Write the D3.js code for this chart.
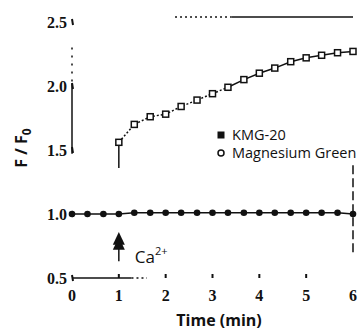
<!DOCTYPE html>
<html>
<head>
<meta charset="utf-8">
<script src="https://cdn.jsdelivr.net/npm/d3@7/dist/d3.min.js"></script>
<style>
  body { margin: 0; background: #fff; }
</style>
</head>
<body>
<div id="chart"></div>
<script>
// time points (min) and F/F0 values
const kmgTimes = [0, 0.33, 0.67, 1, 1.33, 1.67, 2, 2.33, 2.67, 3, 3.33, 3.67, 4, 4.33, 4.67, 5, 5.33, 5.67, 6];
const kmgValues = [1.0, 1.0, 1.0, 1.0, 1.01, 1.01, 1.01, 1.01, 1.01, 1.01, 1.01, 1.01, 1.01, 1.01, 1.01, 1.01, 1.01, 1.01, 1.0];

const mgTimes = [1, 1.33, 1.67, 2, 2.33, 2.67, 3, 3.33, 3.67, 4, 4.33, 4.67, 5, 5.33, 5.67, 6];
const mgValues = [1.56, 1.70, 1.76, 1.78, 1.84, 1.89, 1.94, 1.99, 2.05, 2.10, 2.14, 2.19, 2.22, 2.24, 2.26, 2.27];
const mgJump = [1.36, 1.56]; // rise drawn at the moment of addition

const xTicks = [0, 1, 2, 3, 4, 5, 6];
const yTicks = [0.5, 1.0, 1.5, 2.0, 2.5];
const caTime = 1;
const legendLabels = ["KMG-20", "Magnesium Green"];

const width = 358, height = 330;
const margin = {top: 22, right: 5, bottom: 52, left: 72};

const svg = d3.select("#chart").append("svg")
  .attr("width", width)
  .attr("height", height);

const x = d3.scaleLinear()
  .domain([0, 6])
  .range([margin.left, width - margin.right]);

const y = d3.scaleLinear()
  .domain([0.5, 2.5])
  .range([height - margin.bottom, margin.top]);

const ink = "#111";

// frame, partly broken like the scanned original
const frame = svg.append("g").attr("stroke", ink).attr("fill", "none");
frame.append("line")//left axis
  .attr("x1", x(0)).attr("x2", x(0))
  .attr("y1", y(2.02)).attr("y2", y(1.47))
  .attr("stroke-width", 1.5);
frame.append("line")
  .attr("x1", x(0)).attr("x2", x(0))
  .attr("y1", y(2.3)).attr("y2", y(2.02))
  .attr("stroke-width", 1.5).attr("stroke-dasharray", "2,6");
frame.append("line")//bottom axis
  .attr("x1", x(0)).attr("x2", x(1.27))
  .attr("y1", y(0.5)).attr("y2", y(0.5))
  .attr("stroke-width", 1.5);
frame.append("line")
  .attr("x1", x(1.27)).attr("x2", x(1.6))
  .attr("y1", y(0.5)).attr("y2", y(0.5))
  .attr("stroke-width", 1.5).attr("stroke-dasharray", "2,3");
frame.append("line")//top border
  .attr("x1", x(2.2)).attr("x2", x(3.4))
  .attr("y1", y(2.54)).attr("y2", y(2.54))
  .attr("stroke-width", 1.5).attr("stroke-dasharray", "2,3");
frame.append("line")
  .attr("x1", x(3.4)).attr("x2", x(6))
  .attr("y1", y(2.54)).attr("y2", y(2.54))
  .attr("stroke-width", 1.5);
frame.append("line")//right border
  .attr("x1", x(6)).attr("x2", x(6))
  .attr("y1", y(1.38)).attr("y2", y(0.68))
  .attr("stroke-width", 1.5).attr("stroke-dasharray", "9,4");

// tick marks, pointing inward
frame.selectAll(".ytick")
  .data(yTicks)
  .enter().append("line")
    .attr("x1", x(0)).attr("x2", x(0) + 1)
    .attr("y1", d => y(d) - 3).attr("y2", d => y(d) + 3)
    .attr("stroke-width", 2);
frame.selectAll(".xtick")
  .data(xTicks.slice(1, 6))
  .enter().append("line")
    .attr("x1", d => x(d)).attr("x2", d => x(d))
    .attr("y1", y(0.5)).attr("y2", y(0.5) - 4)
    .attr("stroke-width", 2);

// tick labels
svg.selectAll(".ylab")
  .data(yTicks)
  .enter().append("text")
    .attr("x", x(0) - 5)
    .attr("y", d => y(d))
    .attr("dy", "0.35em")
    .attr("text-anchor", "end")
    .style("font", "bold 16px 'Liberation Serif'")
    .style("fill", ink)
    .text(d => d.toFixed(1));

svg.selectAll(".xlab")
  .data(xTicks)
  .enter().append("text")
    .attr("x", d => x(d))
    .attr("y", y(0.5) + 23)
    .attr("text-anchor", "middle")
    .style("font", "bold 16px 'Liberation Serif'")
    .style("fill", ink)
    .text(d => d);

// axis titles
svg.append("text")
  .attr("x", 219)
  .attr("y", 326)
  .attr("text-anchor", "middle")
  .style("font", "bold 16px 'Open Sans'")
  .style("fill", ink)
  .text("Time (min)");

const yTitle = svg.append("text")
  .attr("transform", "translate(27,148) rotate(-90)")
  .attr("text-anchor", "middle")
  .style("font", "bold 16px 'Open Sans'")
  .style("fill", ink);
yTitle.append("tspan").text("F / F");
yTitle.append("tspan").attr("dy", 4).style("font-size", "12px").text("0");

// Magnesium Green trace
const line = d3.line().x(d => x(d[0])).y(d => y(d[1]));
const mg = mgTimes.map((t, i) => [t, mgValues[i]]);

svg.append("path")
  .datum(mgJump.map(v => [mgTimes[0], v]))
  .attr("d", line)
  .attr("fill", "none").attr("stroke", ink).attr("stroke-width", 1.5);
svg.append("path")
  .datum(mg.slice(0, 8))
  .attr("d", line)
  .attr("fill", "none").attr("stroke", ink).attr("stroke-width", 1.5)
  .attr("stroke-dasharray", "2,2");
svg.append("path")
  .datum(mg.slice(7))
  .attr("d", line)
  .attr("fill", "none").attr("stroke", ink).attr("stroke-width", 1.5);

svg.selectAll(".mg")
  .data(mg)
  .enter().append("rect")
    .attr("x", d => x(d[0]) - 3)
    .attr("y", d => y(d[1]) - 3)
    .attr("width", 6)
    .attr("height", 6)
    .attr("fill", "#fff")
    .attr("stroke", ink)
    .attr("stroke-width", 1.5);

// KMG-20 trace
const kmg = kmgTimes.map((t, i) => [t, kmgValues[i]]);
svg.append("path")
  .datum(kmg)
  .attr("d", line)
  .attr("fill", "none").attr("stroke", ink).attr("stroke-width", 1.5);
svg.selectAll(".kmg")
  .data(kmg)
  .enter().append("circle")
    .attr("cx", d => x(d[0]))
    .attr("cy", d => y(d[1]))
    .attr("r", 3.3)
    .attr("fill", ink);

// Ca2+ addition arrow
svg.append("line")
  .attr("x1", x(caTime)).attr("x2", x(caTime))
  .attr("y1", y(0.63)).attr("y2", y(0.8))
  .attr("stroke", ink).attr("stroke-width", 1.5);
[[0.86, 0.76], [0.82, 0.72]].forEach(h => {
  svg.append("path")
    .attr("d", `M${x(caTime)},${y(h[0])}L${x(caTime) + 6},${y(h[1])}L${x(caTime) - 6},${y(h[1])}Z`)
    .attr("fill", ink);
});
const ca = svg.append("text")
  .attr("x", x(caTime) + 16)
  .attr("y", y(0.63) + 2)
  .style("font", "17px 'Open Sans'")
  .style("fill", ink);
ca.append("tspan").text("Ca");
ca.append("tspan").attr("dy", -8).style("font-size", "11px").text("2+");

// legend
const legend = svg.append("g").attr("transform", "translate(221,135)");
legend.append("rect")
  .attr("x", -3.5).attr("y", -3.5).attr("width", 7).attr("height", 7)
  .attr("fill", ink);
legend.append("circle")
  .attr("cx", 0).attr("cy", 18).attr("r", 3)
  .attr("fill", "#fff").attr("stroke", ink).attr("stroke-width", 1.5);
legend.selectAll("text")
  .data(legendLabels)
  .enter().append("text")
    .attr("x", 11)
    .attr("y", (d, i) => i * 18)
    .attr("dy", "0.35em")
    .style("font", "14.5px 'Open Sans'")
    .style("fill", ink)
    .text(d => d);
</script>
</body>
</html>
